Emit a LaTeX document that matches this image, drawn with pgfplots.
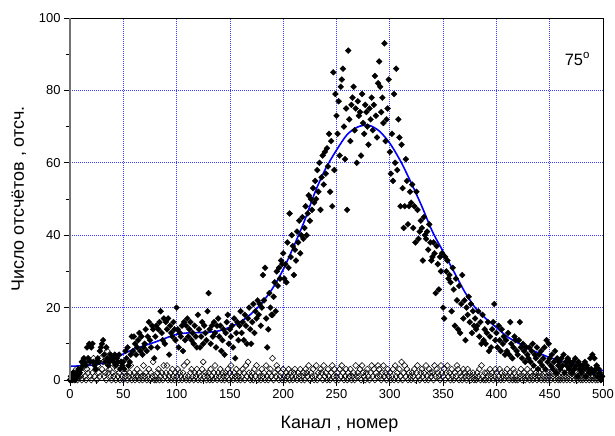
\documentclass[border=0pt]{standalone}
\usepackage{pgfplots}
\pgfplotsset{compat=1.18}
\usepackage{fontspec}
\setmainfont{Liberation Sans}
\definecolor{gridblue}{RGB}{60,60,255}
\definecolor{fitblue}{RGB}{0,0,255}
\begin{document}
\begin{tikzpicture}
\begin{axis}[
  name=ax,
  scale only axis, width=533bp, height=362bp,
  xmin=0, xmax=500, ymin=0, ymax=100,
  xtick={0,50,...,500}, ytick={0,20,...,100},
  minor x tick num=1, minor y tick num=1,
  tick align=outside, tick pos=left,
  major tick length=6bp, minor tick length=3.5bp,
  every tick/.style={black, line width=0.7bp},
  grid=major,
  major grid style={gridblue, line width=0.8bp, dash pattern=on 1bp off 1bp},
  axis line style={black, line width=0.8bp},
  tick label style={font=\fontsize{13}{15}\selectfont},
  /pgf/number format/assume math mode=true,
  xlabel={Канал , номер},
  ylabel={Число отсчётов , отсч.},
  label style={font=\fontsize{18}{21}\selectfont},
  xlabel style={at={(axis description cs:0.5056,-0.1326)}, anchor=base},
  ylabel style={at={(axis description cs:-0.0863,0.5)}, anchor=base},
  clip=false,
]
% open diamonds
\addplot[only marks, mark=square, mark size=2.1bp, mark options={rotate=45, fill=white, draw=black, line width=0.55bp}] coordinates {
(0,0)(1,1)(2,0)(3,2)(4,0)(5,1)(6,3)(7,0)(8,1)(9,2)
(10,1)(11,0)(12,2)(13,4)(14,1)(15,0)(16,3)(17,2)(18,5)(19,1)
(20,0)(21,2)(22,6)(23,1)(24,3)(25,0)(26,4)(27,2)(28,1)(29,6)
(30,3)(31,5)(32,1)(33,2)(34,0)(35,8)(36,2)(37,3)(38,1)(39,0)
(40,2)(41,1)(42,4)(43,0)(44,3)(45,1)(46,2)(47,0)(48,5)(49,1)
(50,0)(51,2)(52,1)(53,3)(54,0)(55,1)(56,2)(57,4)(58,0)(59,1)
(60,2)(61,0)(62,1)(63,3)(64,1)(65,0)(66,2)(67,1)(68,0)(69,4)
(70,1)(71,2)(72,0)(73,1)(74,3)(75,0)(76,2)(77,1)(78,5)(79,0)
(80,1)(81,0)(82,2)(83,3)(84,0)(85,1)(86,2)(87,0)(88,4)(89,1)
(90,2)(91,4)(92,0)(93,1)(94,2)(95,0)(96,3)(97,1)(98,0)(99,2)
(100,1)(101,3)(102,0)(103,2)(104,1)(105,0)(106,2)(107,4)(108,1)(109,0)
(110,5)(111,1)(112,0)(113,2)(114,3)(115,1)(116,0)(117,2)(118,1)(119,3)
(120,0)(121,2)(122,1)(123,0)(124,3)(125,5)(126,1)(127,2)(128,0)(129,1)
(130,2)(131,0)(132,3)(133,1)(134,0)(135,2)(136,4)(137,1)(138,0)(139,2)
(140,1)(141,3)(142,0)(143,2)(144,1)(145,0)(146,2)(147,1)(148,3)(149,0)
(150,2)(151,4)(152,1)(153,0)(154,2)(155,1)(156,3)(157,0)(158,1)(159,2)
(160,0)(161,1)(162,3)(163,2)(164,0)(165,4)(166,1)(167,5)(168,2)(169,0)
(170,1)(171,2)(172,0)(173,3)(174,1)(175,4)(176,0)(177,2)(178,1)(179,0)
(180,3)(181,1)(182,2)(183,0)(184,4)(185,1)(186,0)(187,2)(188,3)(189,1)
(190,6)(191,0)(192,2)(193,1)(194,4)(195,3)(196,0)(197,1)(198,2)(199,0)
(200,3)(201,1)(202,0)(203,2)(204,1)(205,3)(206,0)(207,2)(208,1)(209,0)
(210,2)(211,3)(212,1)(213,0)(214,2)(215,1)(216,3)(217,0)(218,1)(219,2)
(220,0)(221,3)(222,2)(223,1)(224,4)(225,0)(226,2)(227,1)(228,3)(229,0)
(230,1)(231,4)(232,0)(233,2)(234,1)(235,3)(236,2)(237,0)(238,4)(239,1)
(240,2)(241,0)(242,3)(243,1)(244,0)(245,2)(246,4)(247,1)(248,3)(249,0)
(250,1)(251,2)(252,0)(253,3)(254,1)(255,4)(256,2)(257,0)(258,1)(259,3)
(260,0)(261,2)(262,1)(263,3)(264,0)(265,1)(266,2)(267,0)(268,4)(269,1)
(270,2)(271,1)(272,3)(273,0)(274,4)(275,2)(276,1)(277,0)(278,2)(279,3)
(280,1)(281,0)(282,2)(283,4)(284,1)(285,3)(286,0)(287,2)(288,1)(289,4)
(290,3)(291,1)(292,0)(293,2)(294,4)(295,1)(296,2)(297,0)(298,3)(299,1)
(300,2)(301,0)(302,1)(303,3)(304,0)(305,4)(306,1)(307,2)(308,0)(309,3)
(310,1)(311,5)(312,0)(313,2)(314,4)(315,1)(316,3)(317,0)(318,2)(319,1)
(320,0)(321,2)(322,1)(323,3)(324,0)(325,2)(326,4)(327,1)(328,0)(329,2)
(330,3)(331,1)(332,2)(333,0)(334,4)(335,1)(336,0)(337,3)(338,2)(339,1)
(340,2)(341,0)(342,4)(343,1)(344,3)(345,2)(346,1)(347,0)(348,4)(349,2)
(350,1)(351,3)(352,0)(353,2)(354,4)(355,1)(356,2)(357,0)(358,3)(359,1)
(360,0)(361,2)(362,1)(363,4)(364,3)(365,0)(366,2)(367,1)(368,0)(369,3)
(370,2)(371,1)(372,0)(373,3)(374,1)(375,2)(376,0)(377,1)(378,2)(379,0)
(380,1)(381,0)(382,2)(383,1)(384,3)(385,0)(386,4)(387,1)(388,0)(389,2)
(390,0)(391,2)(392,1)(393,0)(394,3)(395,1)(396,2)(397,0)(398,1)(399,3)
(400,2)(401,0)(402,1)(403,3)(404,0)(405,2)(406,1)(407,0)(408,2)(409,1)
(410,3)(411,1)(412,0)(413,2)(414,1)(415,0)(416,3)(417,2)(418,0)(419,1)
(420,0)(421,2)(422,1)(423,3)(424,0)(425,1)(426,2)(427,0)(428,1)(429,3)
(430,1)(431,0)(432,2)(433,1)(434,0)(435,3)(436,1)(437,2)(438,0)(439,1)
(440,2)(441,1)(442,0)(443,3)(444,1)(445,0)(446,2)(447,1)(448,0)(449,2)
(450,1)(451,0)(452,2)(453,1)(454,3)(455,0)(456,1)(457,2)(458,0)(459,1)
(460,0)(461,2)(462,1)(463,0)(464,3)(465,1)(466,0)(467,2)(468,1)(469,0)
(470,2)(471,1)(472,3)(473,0)(474,1)(475,2)(476,0)(477,1)(478,2)(479,0)
(480,1)(481,0)(482,2)(483,1)(484,0)(485,3)(486,1)(487,0)(488,2)(489,1)
(490,0)(491,1)(492,2)(493,0)(494,1)(495,0)(496,2)(497,1)(498,0)(499,1)
};
% filled diamonds
\addplot[only marks, mark=square*, mark size=2.1bp, mark options={rotate=45, fill=black, draw=black, line width=0.3bp}] coordinates {
(0,0)(1,1)(2,0)(3,2)(4,1)(5,0)(6,2)(7,1)(8,3)(9,2)
(10,3)(11,5)(12,4)(13,6)(14,5)(15,4)(16,9)(17,6)(18,10)(19,5)
(20,9)(21,10)(22,5)(23,4)(24,3)(25,5)(26,6)(27,5)(28,8)(29,9)
(30,10)(31,11)(32,7)(33,5)(34,9)(35,6)(36,4)(37,5)(38,7)(39,6)
(40,6)(41,5)(42,7)(43,4)(44,6)(45,5)(46,7)(47,3)(48,5)(49,4)
(50,5)(51,3)(52,8)(53,6)(54,9)(55,4)(56,5)(57,7)(58,12)(59,8)
(60,12)(61,10)(62,7)(63,9)(64,11)(65,13)(66,8)(67,12)(68,7)(69,9)
(70,10)(71,14)(72,8)(73,12)(74,16)(75,11)(76,9)(77,15)(78,14)(79,6)
(80,12)(81,15)(82,9)(83,14)(84,16)(85,19)(86,13)(87,11)(88,17)(89,10)
(90,16)(91,14)(92,17)(93,7)(94,15)(95,13)(96,12)(97,16)(98,14)(99,11)
(100,20)(101,14)(102,9)(103,13)(104,12)(105,15)(106,8)(107,16)(108,11)(109,15)
(110,17)(111,12)(112,14)(113,16)(114,11)(115,13)(116,10)(117,15)(118,12)(119,9)
(120,18)(121,14)(122,9)(123,12)(124,16)(125,10)(126,15)(127,13)(128,11)(129,19)
(130,24)(131,14)(132,10)(133,15)(134,12)(135,16)(136,13)(137,9)(138,15)(139,17)
(140,12)(141,15)(142,8)(143,11)(144,14)(145,7)(146,13)(147,16)(148,18)(149,10)
(150,14)(151,12)(152,15)(153,9)(154,17)(155,6)(156,13)(157,16)(158,11)(159,15)
(160,19)(161,13)(162,16)(163,11)(164,18)(165,15)(166,10)(167,17)(168,20)(169,14)
(170,10)(171,16)(172,21)(173,13)(174,19)(175,17)(176,22)(177,18)(178,21)(179,15)
(180,20)(181,29)(182,22)(183,31)(184,17)(185,9)(186,14)(187,24)(188,20)(189,18)
(190,18)(191,23)(192,27)(193,19)(194,30)(195,26)(196,31)(197,28)(198,33)(199,32)
(200,35)(201,28)(202,32)(203,27)(204,38)(205,31)(206,46)(207,34)(208,40)(209,37)
(210,29)(211,36)(212,33)(213,41)(214,38)(215,44)(216,35)(217,40)(218,45)(219,39)
(220,42)(221,48)(222,40)(223,46)(224,51)(225,44)(226,50)(227,47)(228,53)(229,49)
(230,55)(231,50)(232,58)(233,52)(234,60)(235,47)(236,56)(237,62)(238,54)(239,63)
(240,57)(241,64)(242,59)(243,68)(244,52)(245,66)(246,48)(247,85)(248,58)(249,79)
(250,73)(251,68)(252,77)(253,62)(254,81)(255,83)(256,86)(257,70)(258,61)(259,75)
(260,47)(261,91)(262,72)(263,66)(264,76)(265,78)(266,81)(267,69)(268,75)(269,60)
(270,77)(271,73)(272,74)(273,62)(274,79)(275,71)(276,68)(277,76)(278,74)(279,70)
(280,65)(281,75)(282,72)(283,78)(284,69)(285,76)(286,84)(287,73)(288,67)(289,82)
(290,88)(291,81)(292,74)(293,78)(294,71)(295,93)(296,66)(297,72)(298,75)(299,83)
(300,63)(301,57)(302,68)(303,55)(304,79)(305,60)(306,86)(307,58)(308,72)(309,67)
(310,48)(311,65)(312,53)(313,42)(314,48)(315,61)(316,55)(317,43)(318,48)(319,52)
(320,49)(321,54)(322,42)(323,48)(324,38)(325,52)(326,47)(327,39)(328,41)(329,44)
(330,42)(331,33)(332,45)(333,40)(334,39)(335,41)(336,36)(337,43)(338,38)(339,33)
(340,34)(341,38)(342,35)(343,24)(344,37)(345,32)(346,25)(347,34)(348,30)(349,35)
(350,20)(351,17)(352,34)(353,30)(354,33)(355,28)(356,29)(357,27)(358,19)(359,31)
(360,25)(361,15)(362,28)(363,22)(364,14)(365,26)(366,13)(367,21)(368,29)(369,17)
(370,22)(371,11)(372,20)(373,18)(374,23)(375,16)(376,21)(377,13)(378,19)(379,15)
(380,17)(381,14)(382,15)(383,19)(384,12)(385,16)(386,10)(387,18)(388,11)(389,14)
(390,10)(391,13)(392,16)(393,8)(394,12)(395,9)(396,14)(397,16)(398,21)(399,11)
(400,13)(401,9)(402,15)(403,11)(404,8)(405,14)(406,10)(407,12)(408,7)(409,11)
(410,8)(411,13)(412,7)(413,16)(414,10)(415,6)(416,9)(417,12)(418,11)(419,8)
(420,7)(421,11)(422,16)(423,9)(424,6)(425,10)(426,8)(427,5)(428,9)(429,7)
(430,6)(431,9)(432,5)(433,8)(434,10)(435,4)(436,7)(437,6)(438,9)(439,3)
(440,7)(441,5)(442,8)(443,4)(444,6)(445,9)(446,3)(447,11)(448,5)(449,10)
(450,6)(451,4)(452,7)(453,3)(454,5)(455,8)(456,2)(457,6)(458,4)(459,5)
(460,3)(461,6)(462,4)(463,7)(464,2)(465,5)(466,4)(467,6)(468,3)(469,5)
(470,4)(471,2)(472,5)(473,3)(474,6)(475,4)(476,1)(477,5)(478,3)(479,4)
(480,2)(481,4)(482,3)(483,5)(484,1)(485,4)(486,3)(487,2)(488,6)(489,3)
(490,7)(491,2)(492,6)(493,3)(494,4)(495,1)(496,3)(497,2)(498,0)(499,1)
};
% fit curve
\addplot[fitblue, line width=1.6bp, smooth, no marks] coordinates {
(0,3.8)(10,3.9)(20,4.1)(30,4.6)(40,5.6)(50,7.2)(60,8.5)(70,9.5)(80,10.5)(90,11.6)
(100,12.6)(110,13.0)(120,13.1)(130,13.2)(140,13.6)(150,14.6)(160,16.1)(170,18.3)(180,21.3)(190,25.3)
(200,30.5)(210,37)(220,44)(230,52)(240,58.5)(250,63.5)(260,67.8)(270,69.9)(280,70.4)(290,68.8)
(300,65.4)(310,60.5)(320,54.5)(330,48)(340,41)(350,35.5)(360,30)(370,24.5)(380,20)(390,17)
(400,14.5)(410,12)(420,10.3)(430,8.7)(440,7.4)(450,6.2)(460,5.3)(470,4.5)(480,3.7)(490,3.1)(500,2.6)
};
\node[font=\fontsize{16.5}{19}\selectfont] at (axis cs:476,88.7) {75\textsuperscript{o}};
\end{axis}
\draw[black!55, line width=1.6bp] (ax.south west) -- (ax.north west);
\pgfresetboundingbox
\path[use as bounding box] ([xshift=-70bp,yshift=-56bp]ax.south west) rectangle ([xshift=12bp,yshift=18bp]ax.north east);
\end{tikzpicture}
\end{document}
